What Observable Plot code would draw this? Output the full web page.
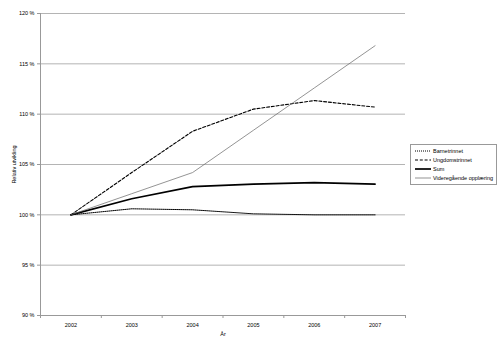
<!DOCTYPE html>
<html><head><meta charset="utf-8">
<script src="https://cdn.jsdelivr.net/npm/d3@7"></script>
<script src="https://cdn.jsdelivr.net/npm/@observablehq/plot@0.6"></script>
<style>
body{margin:0;background:#fff;font-family:"Liberation Sans",Arial,sans-serif;}
#wrap{position:relative;width:500px;height:345px;}
#legend{position:absolute;left:410px;top:144px;width:87px;height:41px;border:1px solid #999;box-sizing:border-box;font-size:5.5px;}
.row{position:absolute;left:4px;height:8px;display:flex;align-items:center;white-space:nowrap;}
.row span{margin-left:2px;}
</style></head>
<body><div id="wrap"><div id="chart"></div><div id="legend"></div></div>
<script>
const years = [2002, 2003, 2004, 2005, 2006, 2007];
const barnetrinnet = [100, 100.6, 100.5, 100.1, 100.0, 100.0];
const ungdomstrinnet = [100, 104.2, 108.3, 110.5, 111.35, 110.7];
const sum = [100, 101.6, 102.8, 103.05, 103.2, 103.05];
const videregaende = [100, 102.1, 104.2, 108.4, 112.6, 116.8];
const yTicks = [90, 95, 100, 105, 110, 115, 120];
const seriesNames = ["Barnetrinnet", "Ungdomstrinnet", "Sum", "Videregående opplæring"];

const styles = [
  {stroke: "#000", strokeWidth: 1, strokeDasharray: "1 1"},
  {stroke: "#000", strokeWidth: 1.1, strokeDasharray: "3 1.8"},
  {stroke: "#000", strokeWidth: 1.7, strokeDasharray: null},
  {stroke: "#666", strokeWidth: 0.7, strokeDasharray: null}
];
const allSeries = [barnetrinnet, ungdomstrinnet, sum, videregaende];
const tables = allSeries.map(vals => years.map((y, i) => ({year: y, value: vals[i]})));

const xDomain = [years[0] - 0.5, years[years.length - 1] + 0.5];
const bounds = [xDomain[0], ...years.map(y => y + 0.5)];

const chart = Plot.plot({
  width: 500, height: 345,
  marginLeft: 40, marginRight: 95, marginTop: 13, marginBottom: 30,
  style: {fontFamily: "Liberation Sans, Arial, sans-serif", fontSize: "5.5px", color: "#000", background: "#fff"},
  x: {type: "linear", domain: xDomain},
  y: {domain: [yTicks[0], yTicks[yTicks.length - 1]]},
  marks: [
    Plot.gridY(yTicks, {stroke: "#b4b4b4", strokeOpacity: 1, strokeWidth: 1}),
    Plot.ruleX([xDomain[0]], {stroke: "#999"}),
    Plot.ruleY([yTicks[0]], {stroke: "#999"}),
    Plot.axisY(yTicks, {tickFormat: d => d + " %", tickSize: 3, stroke: "#999", tickPadding: 3,
      label: "Relativ utvikling", labelAnchor: "center", labelArrow: "none", labelOffset: 28, fontWeight: "normal"}),
    Plot.axisX(years, {tickFormat: d => String(d), tickSize: 0, tickPadding: 8, label: null}),
    Plot.axisX(bounds, {tickFormat: () => "", tickSize: 3, stroke: "#999", label: "År", labelAnchor: "center", labelArrow: "none", labelOffset: 20}),
    ...tables.map((t, i) => Plot.line(t, {x: "year", y: "value", ...styles[i]}))
  ]
});
document.getElementById("chart").appendChild(chart);

const legend = document.getElementById("legend");
seriesNames.forEach((name, i) => {
  const row = document.createElement("div");
  row.className = "row";
  row.style.top = (1.5 + i * 9.2) + "px";
  const s = styles[i];
  row.innerHTML = `<svg width="16" height="6"><line x1="0" x2="16" y1="3" y2="3" stroke="${s.stroke}" stroke-width="${s.strokeWidth}" ${s.strokeDasharray ? `stroke-dasharray="${s.strokeDasharray}"` : ""}/></svg><span>${name}</span>`;
  legend.appendChild(row);
});
</script></body></html>
